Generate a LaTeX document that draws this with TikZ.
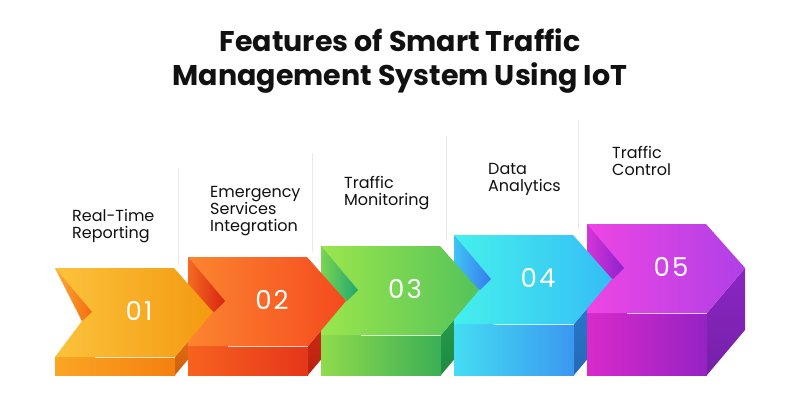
\documentclass[tikz,border=0pt]{standalone}
\usepackage{fontspec}
\setmainfont{Poppins}
\newfontfamily\numfont{Poppins}[LetterSpace=8]
\definecolor{topL1}{HTML}{FCC23C}\definecolor{topR1}{HTML}{F39A10}\definecolor{frL1}{HTML}{FBA524}\definecolor{frR1}{HTML}{F5800F}\definecolor{sd1}{HTML}{F07212}\definecolor{wA1}{HTML}{FDAA3A}\definecolor{wB1}{HTML}{F26C0E}
\definecolor{topL2}{HTML}{FC8530}\definecolor{topR2}{HTML}{F54A1E}\definecolor{frL2}{HTML}{F7621F}\definecolor{frR2}{HTML}{E5361A}\definecolor{sd2}{HTML}{D92A14}\definecolor{wA2}{HTML}{F56A22}\definecolor{wB2}{HTML}{D8240F}
\definecolor{topL3}{HTML}{9BE64C}\definecolor{topR3}{HTML}{54C35A}\definecolor{frL3}{HTML}{90DB4C}\definecolor{frR3}{HTML}{3AAF56}\definecolor{sd3}{HTML}{24A24F}\definecolor{wA3}{HTML}{7CD454}\definecolor{wB3}{HTML}{1FA86E}
\definecolor{topL4}{HTML}{45F0EC}\definecolor{topR4}{HTML}{35BDF6}\definecolor{frL4}{HTML}{44DDF2}\definecolor{frR4}{HTML}{3B97F0}\definecolor{sd4}{HTML}{2B7BD5}\definecolor{wA4}{HTML}{3EC5F2}\definecolor{wB4}{HTML}{3A78F0}
\definecolor{topL5}{HTML}{EE45E4}\definecolor{topR5}{HTML}{B040E6}\definecolor{frL5}{HTML}{D92ACB}\definecolor{frR5}{HTML}{9622C4}\definecolor{sd5}{HTML}{8A26C4}\definecolor{wA5}{HTML}{D535D8}\definecolor{wB5}{HTML}{8B22CC}
\definecolor{sepgray}{HTML}{E8E8E8}
\definecolor{ink}{HTML}{111111}
\tikzset{
  sepline/.style={draw=sepgray, line width=0.9pt},
  titletxt/.style={inner sep=0pt, text=ink, font=\fontsize{28.5}{32}\selectfont\bfseries},
  labeltxt/.style={inner sep=0pt, anchor=base west, text=ink, font=\fontsize{16}{17}\selectfont},
  numtxt/.style={inner sep=0pt, text=white, font=\numfont\fontsize{26}{28}\selectfont},
  hilite/.style={draw=white, draw opacity=0.75, line width=0.8pt}
}
\begin{document}
\begin{tikzpicture}[x=1pt,y=-1pt]
\useasboundingbox (0,0) rectangle (800,400);
\fill[white] (0,0) rectangle (800,400);
% title
\node[titletxt, anchor=base] (title1) at (400,51) {Features of Smart Traffic};
\node[titletxt, anchor=base] (title2) at (400,85) {Management System Using IoT};
% separators
\foreach \n/\x/\a/\b in {1/178.5/168/265, 2/312.5/153/252, 3/446.5/136/240, 4/578.5/120/229}
  \draw[sepline] (\x,\a) coordinate (sep\n a) -- (\x,\b) coordinate (sep\n b);
% labels
\node[labeltxt] (lab1a) at (72,221) {Real-Time};
\node[labeltxt] (lab1b) at (72,238) {Reporting};
\node[labeltxt] (lab2a) at (210,197) {Emergency};
\node[labeltxt] (lab2b) at (210,214) {Services};
\node[labeltxt] (lab2c) at (210,231) {Integration};
\node[labeltxt] (lab3a) at (344,188) {Traffic};
\node[labeltxt] (lab3b) at (344,205) {Monitoring};
\node[labeltxt] (lab4a) at (488,174) {Data};
\node[labeltxt] (lab4b) at (488,191) {Analytics};
\node[labeltxt] (lab5a) at (612,158) {Traffic};
\node[labeltxt] (lab5b) at (612,175) {Control};
% side and front faces, left to right
\foreach \i in {1,...,5}{
  \pgfmathsetmacro\xo{55+133*(\i-1)}
  \pgfmathsetmacro\yt{268-11*(\i-1)}
  \shade[top color=sd\i, bottom color=sd\i!85!black]
    ({\xo+120},{\yt+89}) -- ({\xo+158},{\yt+44}) -- ({\xo+158},330) -- ({\xo+120},375) -- cycle;
  \shade[left color=frL\i, right color=frR\i]
    (\xo,{\yt+89}) rectangle ({\xo+120},375);
}
% top faces and notch wedges, right to left
\foreach \i in {5,4,3,2,1}{
  \pgfmathsetmacro\xo{55+133*(\i-1)}
  \pgfmathsetmacro\yt{268-11*(\i-1)}
  \ifnum\i=1
    \shade[left color=topL\i, right color=topR\i]
      (\xo,\yt) -- ({\xo+119},\yt) -- ({\xo+158},{\yt+44}) -- ({\xo+120},{\yt+89})
      -- (\xo,{\yt+89}) -- ({\xo+27},{\yt+53}) -- cycle;
    \shade[left color=wA\i, right color=wB\i]
      (\xo,\yt) -- ({\xo+37},{\yt+44}) -- ({\xo+27},{\yt+53}) -- cycle;
  \else
    \shade[left color=topL\i, right color=topR\i]
      (\xo,\yt) -- ({\xo+119},\yt) -- ({\xo+158},{\yt+44}) -- ({\xo+120},{\yt+89})
      -- (\xo,{\yt+89}) -- cycle;
    \shade[left color=wA\i, right color=wB\i]
      (\xo,\yt) -- ({\xo+37},{\yt+44}) -- ({\xo+26},{\yt+55}) -- (\xo,{\yt+40}) -- cycle;
  \fi
  \draw[hilite] ({\xo+40},{\yt+89}) -- ({\xo+120},{\yt+89});
  \node[numtxt] (num\i) at ({\xo+84},{\yt+43}) {0\i};
}
\end{tikzpicture}
\end{document}
